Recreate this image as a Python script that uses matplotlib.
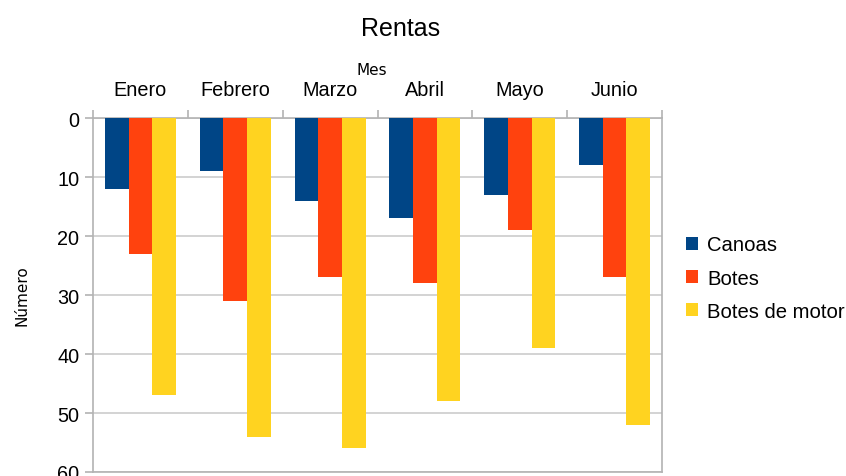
import matplotlib.pyplot as plt
import numpy as np

meses = ["Enero", "Febrero", "Marzo", "Abril", "Mayo", "Junio"]
canoas = [12, 9, 14, 17, 13, 8]
botes = [23, 31, 27, 28, 19, 27]
botes_motor = [47, 54, 56, 48, 39, 52]

series = [("Canoas", canoas, "#004586"),
          ("Botes", botes, "#ff420e"),
          ("Botes de motor", botes_motor, "#ffd320")]

plt.rcParams['font.family'] = ['Liberation Sans', 'DejaVu Sans']

fig = plt.figure(figsize=(8.46, 4.77), dpi=100)
ax = fig.add_axes([0.110, 0.0084, 0.6725, 0.742])

x = np.arange(len(meses))
w = 0.25
for i, (nombre, vals, col) in enumerate(series):
    ax.bar(x + (i - 1) * w, vals, width=w, color=col, label=nombre, zorder=3)

ax.set_xlim(-0.5, len(meses) - 0.5)
ax.set_ylim(60, 0)
ax.set_yticks(range(0, 61, 10))
ax.yaxis.grid(True, color="#cccccc", linewidth=1.2, zorder=0)

# eje de categorias arriba
ax.xaxis.tick_top()
ax.xaxis.set_label_position('top')
ax.set_xticks(x)
ax.set_xticklabels(meses, fontsize=14.3)
ax.set_xticks(np.arange(-0.5, len(meses), 1), minor=True)
ax.tick_params(axis='x', which='major', length=0, pad=14)
ax.tick_params(axis='x', which='minor', length=6, color="#b3b3b3", width=1.2)
ax.tick_params(axis='y', length=6, color="#b3b3b3", width=1.2, labelsize=14.3, pad=4)

for s in ax.spines.values():
    s.set_color("#b3b3b3")
    s.set_linewidth(1.2)

ax.set_xlabel("Mes", fontsize=11, family="DejaVu Sans", labelpad=-2)
ax.xaxis.set_label_coords(0.49, 1.125)
fig.text(0.026, 0.38, "Número", rotation=90, fontsize=11, family="DejaVu Sans",
         ha="center", va="center")

fig.text(0.473, 0.94, "Rentas", fontsize=18, ha="center", va="center")

ax.legend(loc="center left", bbox_to_anchor=(1.01, 0.548), frameon=False,
          fontsize=14.6, handlelength=0.6, handleheight=0.6, handletextpad=0.45,
          labelspacing=0.7)

fig.savefig("out.png", dpi=100)
